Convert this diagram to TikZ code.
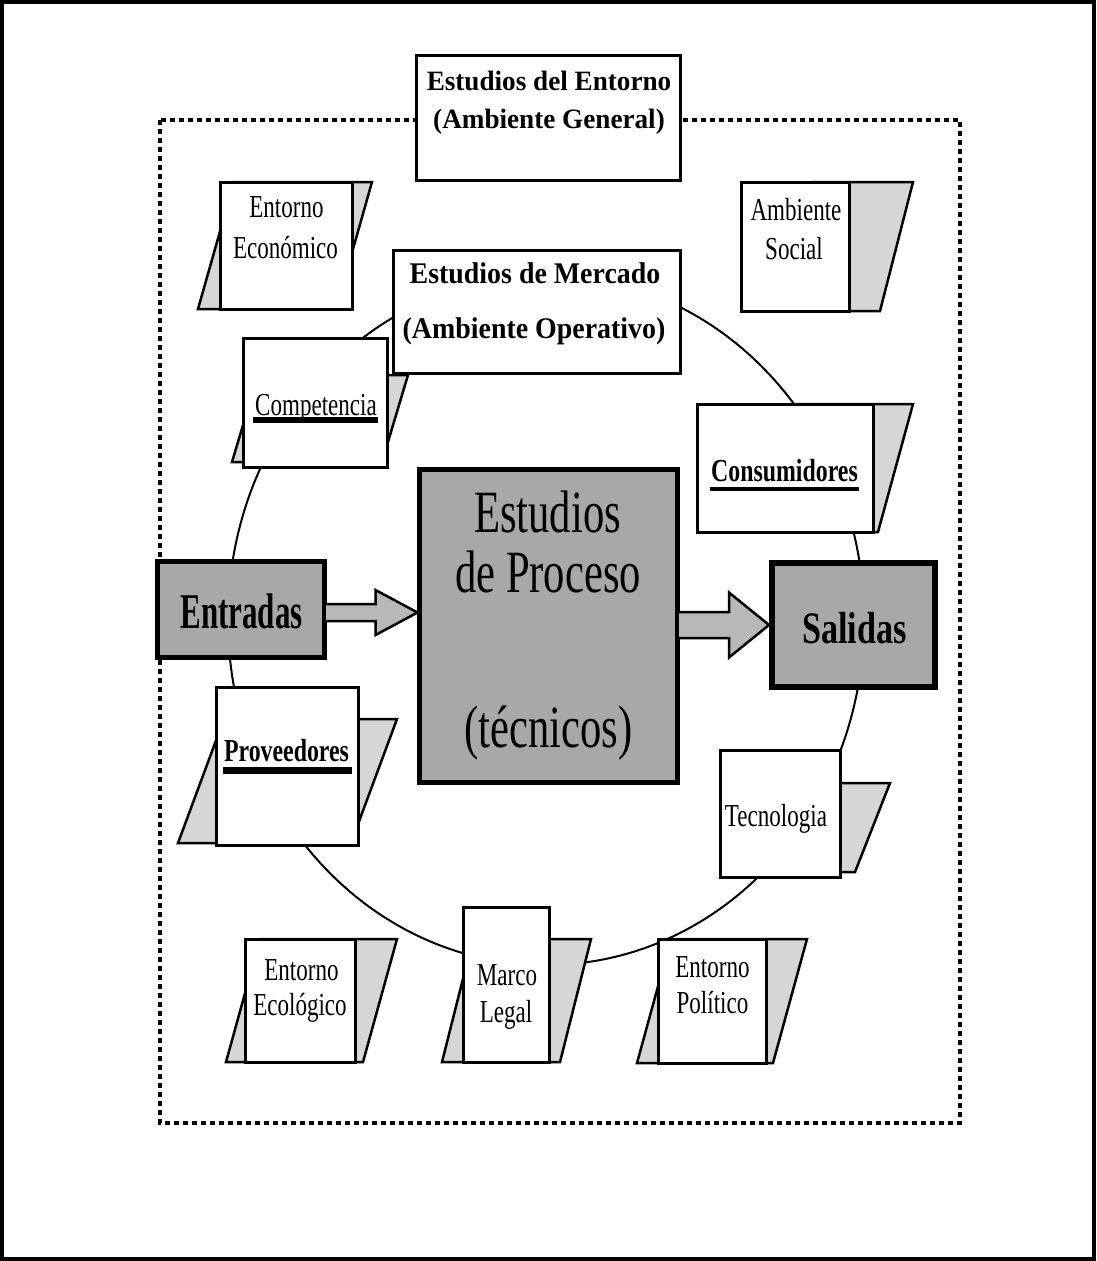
\documentclass[tikz,border=0pt]{standalone}
\usepackage{fontspec}
\setmainfont{Liberation Serif}
\usetikzlibrary{calc}
\definecolor{boxgray}{RGB}{168,168,168}
\definecolor{arrowgray}{RGB}{184,184,184}
\definecolor{slantgray}{RGB}{214,214,214}
\newcommand{\sq}[2]{\scalebox{#1}[1]{#2}}
\begin{document}
\begin{tikzpicture}[x=1pt,y=-1pt,
  lbl/.style={anchor=base, inner sep=0pt, outer sep=0pt, font=\fontsize{32}{38}\selectfont},
  blbl/.style={anchor=base, inner sep=0pt, outer sep=0pt, font=\fontsize{32}{38}\selectfont\bfseries},
  headlbl/.style={anchor=base, inner sep=0pt, outer sep=0pt, font=\fontsize{28}{34}\selectfont\bfseries},
  mercl/.style={anchor=base, inner sep=0pt, outer sep=0pt, font=\fontsize{30}{36}\selectfont\bfseries},
  proclbl/.style={anchor=base, inner sep=0pt, outer sep=0pt, font=\fontsize{60}{70}\selectfont},
  docbox/.style={draw=black, line width=3pt, fill=white, inner sep=0pt, outer sep=0pt},
  keybox/.style={draw=black, fill=boxgray, inner sep=0pt, outer sep=0pt},
  slantbox/.style={draw=black, line width=2.5pt, fill=slantgray, line join=miter},
  blockarrow/.style={draw=black, line width=2.5pt, fill=arrowgray, line join=miter},
  dotline/.style={draw=black, line width=4pt, dash pattern=on 5pt off 4pt},
  uline/.style={draw=black, line cap=butt}
]
\useasboundingbox (0,0) rectangle (1096,1261);
\fill[white] (0,0) rectangle (1096,1261);
\draw[line width=4pt] (2,2) rectangle (1094,1259);

% dotted environment frame and circle
\draw[dotline] (160,120) rectangle (960,1123);
\draw[line width=2pt] (546,620) ellipse [x radius=318pt, y radius=345pt];

% slanted backing cards
\draw[slantbox] (234,182) -- (372,182) -- (336,309) -- (198,309) -- cycle;
\draw[slantbox] (813,182) -- (913,182) -- (880,311) -- (780,311) -- cycle;
\draw[slantbox] (258,375) -- (408,375) -- (382,462) -- (232,462) -- cycle;
\draw[slantbox] (793,404) -- (913,404) -- (878,532) -- (758,532) -- cycle;
\draw[slantbox] (224,719) -- (397,719) -- (351,843) -- (178,843) -- cycle;
\draw[slantbox] (810,783) -- (890,783) -- (855,872) -- (775,872) -- cycle;
\draw[slantbox] (260,939) -- (397,939) -- (363,1062) -- (226,1062) -- cycle;
\draw[slantbox] (473,939) -- (591,939) -- (560,1062) -- (442,1062) -- cycle;
\draw[slantbox] (671,939) -- (807,939) -- (773,1063) -- (637,1063) -- cycle;

% document boxes
\node[docbox, minimum width=132pt, minimum height=127pt] (eco) at (286,245.5) {};
\node[docbox, minimum width=108pt, minimum height=129pt] (soc) at (795,246.5) {};
\node[docbox, minimum width=144pt, minimum height=129pt] (comp) at (315,402.5) {};
\node[docbox, minimum width=176pt, minimum height=128pt] (cons) at (785,468) {};
\node[docbox, minimum width=142pt, minimum height=158pt] (prov) at (287,766) {};
\node[docbox, minimum width=120pt, minimum height=127pt] (tec) at (780,813.5) {};
\node[docbox, minimum width=110pt, minimum height=123pt] (ecol) at (300,1000.5) {};
\node[docbox, minimum width=86pt, minimum height=155pt] (marco) at (506,984.5) {};
\node[docbox, minimum width=108pt, minimum height=124pt] (pol) at (712,1001) {};
\node[docbox, minimum width=264pt, minimum height=125pt] (top) at (548.5,118) {};
\node[docbox, minimum width=287pt, minimum height=123pt] (merc) at (536.5,311.5) {};

% main flow boxes
\node[keybox, line width=5pt, minimum width=167pt, minimum height=96pt] (entradas) at (241,609.5) {};
\node[keybox, line width=6pt, minimum width=163pt, minimum height=124pt] (salidas) at (853.5,625) {};
\node[keybox, line width=5pt, minimum width=258pt, minimum height=313pt] (proc) at (548.5,626) {};

% block arrows
\coordinate (a1) at ($(entradas.east)+(0,3)$);
\coordinate (a1t) at ($(proc.west |- a1)+(-2,0)$);
\draw[blockarrow] ($(a1)+(0,-8.5)$) -- ($(a1t)+(-42,-8.5)$) -- ($(a1t)+(-42,-22.5)$) -- (a1t)
  -- ($(a1t)+(-42,22.5)$) -- ($(a1t)+(-42,8.5)$) -- ($(a1)+(0,8.5)$) -- cycle;
\coordinate (a2) at ($(proc.east)+(0,-1)$);
\coordinate (a2t) at ($(salidas.west |- a2)+(-3,0)$);
\draw[blockarrow] ($(a2)+(0,-13)$) -- ($(a2t)+(-40,-13)$) -- ($(a2t)+(-40,-32.5)$) -- (a2t)
  -- ($(a2t)+(-40,32.5)$) -- ($(a2t)+(-40,13)$) -- ($(a2)+(0,13)$) -- cycle;

% texts
\node[headlbl] (top1) at (549,90) {\sq{0.97}{Estudios del Entorno}};
\node[headlbl] (top2) at (549,128) {\sq{0.97}{(Ambiente General)}};
\node[mercl] (merc1) at (535,283) {\sq{0.93}{Estudios de Mercado}};
\node[mercl] (merc2) at (534,338) {\sq{0.93}{(Ambiente Operativo)}};

\node[lbl] (eco1) at (286.5,217) {\sq{0.72}{Entorno}};
\node[lbl] (eco2) at (285.5,258) {\sq{0.72}{Económico}};
\node[lbl] (soc1) at (796,220) {\sq{0.72}{Ambiente}};
\node[lbl] (soc2) at (794,259) {\sq{0.72}{Social}};
\node[lbl] (compt) at (316,415) {\sq{0.72}{Competencia}};
\node[blbl] (const) at (784.5,481) {\sq{0.745}{Consumidores}};
\node[blbl] (provt) at (286.5,761) {\sq{0.745}{Proveedores}};
\node[lbl] (tect) at (776,826) {\sq{0.72}{Tecnologia}};
\node[lbl] (ecol1) at (301.5,980) {\sq{0.72}{Entorno}};
\node[lbl] (ecol2) at (300,1015) {\sq{0.72}{Ecológico}};
\node[lbl] (marco1) at (507,985) {\sq{0.72}{Marco}};
\node[lbl] (marco2) at (506,1022) {\sq{0.72}{Legal}};
\node[lbl] (pol1) at (712.5,977) {\sq{0.72}{Entorno}};
\node[lbl] (pol2) at (712.5,1013) {\sq{0.72}{Político}};

\draw[uline, line width=6pt] ([xshift=-2pt,yshift=-5pt]compt.base west) -- ([xshift=1pt,yshift=-5pt]compt.base east);
\draw[uline, line width=4pt] ([xshift=-1pt,yshift=-8pt]const.base west) -- ([xshift=1pt,yshift=-8pt]const.base east);
\draw[uline, line width=7pt] ([xshift=-1pt,yshift=-9pt]provt.base west) -- ([xshift=3pt,yshift=-9pt]provt.base east);

\node[proclbl] (proc1) at (547.5,532) {\sq{0.71}{Estudios}};
\node[proclbl] (proc2) at (548,592) {\sq{0.71}{de Proceso}};
\node[proclbl] (proc3) at (548.5,747) {\sq{0.71}{(técnicos)}};

\node[anchor=base, inner sep=0pt, font=\fontsize{50}{60}\selectfont\bfseries] (entt) at (241.5,628) {\sq{0.62}{Entradas}};
\node[anchor=base, inner sep=0pt, font=\fontsize{45}{54}\selectfont\bfseries] (salt) at (854.5,643) {\sq{0.76}{Salidas}};
\end{tikzpicture}
\end{document}
